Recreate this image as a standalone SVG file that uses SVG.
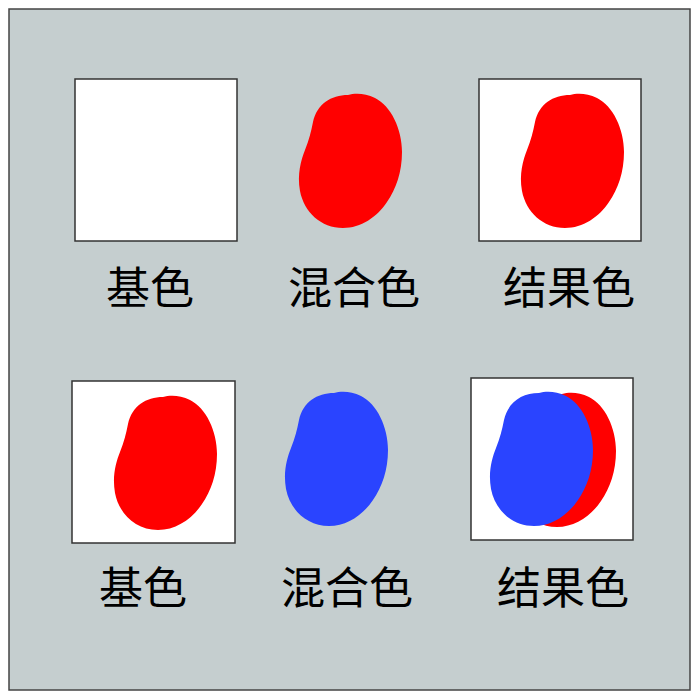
<svg xmlns="http://www.w3.org/2000/svg" xmlns:xlink="http://www.w3.org/1999/xlink" width="700" height="700" viewBox="0 0 700 700">
<style>
.frame{fill:#ffffff;stroke:#333333;stroke-width:1.5}
.red{fill:#ff0000}
.blue{fill:#2a44ff}
.lbl{font-family:"Noto Sans CJK SC","Noto Sans CJK JP",sans-serif;font-size:44px;fill:#000000;text-anchor:middle}
</style>
<defs>
<path id="blob" d="M49,1 C56,-1 66,-1 76,4 C92,12 103,35 103,58 C103,78 97,95 88,108 C78,123 62,134 44,134 C22,134 5,118 1,97 C-2,80 2,66 6,56 C10,46 12,38 14,28 C18,10 32,1 49,1 Z"/>
</defs>
<rect x="0" y="0" width="700" height="700" fill="#ffffff"/>
<rect x="9" y="9" width="681" height="681" fill="#c5cecf" stroke="#444444" stroke-width="1.5"/>
<g id="top-base">
<rect class="frame" x="75" y="79" width="162" height="162"/>
<text class="lbl" x="150" y="304">基色</text>
</g>
<g id="top-blend">
<use xlink:href="#blob" class="red" transform="translate(299,94)"/>
<text class="lbl" x="354" y="304">混合色</text>
</g>
<g id="top-result">
<rect class="frame" x="479" y="79" width="162" height="162"/>
<use xlink:href="#blob" class="red" transform="translate(521,94)"/>
<text class="lbl" x="569" y="304">结果色</text>
</g>
<g id="bottom-base">
<rect class="frame" x="72" y="381" width="163" height="162"/>
<use xlink:href="#blob" class="red" transform="translate(114,396)"/>
<text class="lbl" x="143" y="604">基色</text>
</g>
<g id="bottom-blend">
<use xlink:href="#blob" class="blue" transform="translate(285,392)"/>
<text class="lbl" x="347" y="604">混合色</text>
</g>
<g id="bottom-result">
<rect class="frame" x="471" y="378" width="162" height="162"/>
<use xlink:href="#blob" class="red" transform="translate(513,393)"/>
<use xlink:href="#blob" class="blue" transform="translate(490,392)"/>
<text class="lbl" x="563" y="604">结果色</text>
</g>
<g id="connectors"></g>
</svg>
